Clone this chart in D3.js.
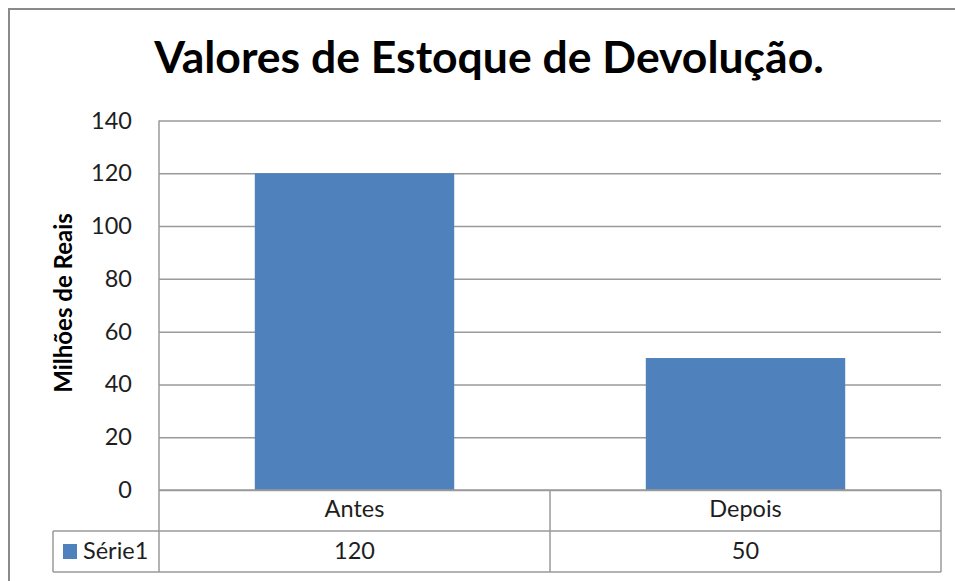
<!DOCTYPE html>
<html>
<head>
<meta charset="utf-8">
<script src="https://cdn.jsdelivr.net/npm/d3@7"></script>
<style>
  html, body { margin: 0; padding: 0; background: #fff; overflow: hidden; }
  svg { display: block; font-family: Lato, "Open Sans", sans-serif; }
</style>
</head>
<body>
<div id="chart"></div>
<script>
// chart values
const TITLE = 'Valores de Estoque de Devolução.';
const Y_LABEL = 'Milhões de Reais';
const SERIES_NAME = 'Série1';
const categories = ['Antes', 'Depois'];
const values = [120, 50];
const yTicks = [0, 20, 40, 60, 80, 100, 120, 140];

const BAR_COLOR = '#4f81bd';
const GRID = '#9a9a9a';
const TEXT = '#1e1e1e';
const FS = '23.5px';

function buildChart() {
  const W = 955, H = 581;
  const M = { left: 159, right: 941, top: 120.5, plotBottom: 490 };
  const ROW_H = 41;

  const svg = d3.select('#chart').append('svg')
    .attr('width', W).attr('height', H);

  // outer chart border (runs past the window on right/bottom)
  svg.append('rect').attr('x', 9).attr('y', 9).attr('width', 1000).attr('height', 1000)
    .attr('fill', '#fff').attr('stroke', '#8a8a8a').attr('stroke-width', 2);

  // bar band: 2 categories, bar ~51% of each cell, centred
  const x = d3.scaleBand().domain(categories)
    .range([M.left, M.right])
    .paddingInner(0.49).paddingOuter(0.245);
  const xCell = d3.scaleBand().domain(categories).range([M.left, M.right]);

  const y = d3.scaleLinear().domain([0, 140]).range([M.plotBottom, M.top]);

  // gridlines
  const grid = svg.append('g').attr('transform', `translate(${M.left},0)`)
    .call(d3.axisLeft(y).tickValues(yTicks).tickSize(-(M.right - M.left)).tickFormat(''));
  grid.select('.domain').remove();
  grid.selectAll('line').attr('stroke', GRID).attr('stroke-width', 1.5);

  // tick labels
  const yAxis = svg.append('g').attr('transform', `translate(${M.left - 27},0)`)
    .call(d3.axisLeft(y).tickValues(yTicks).tickSize(0).tickPadding(0));
  yAxis.select('.domain').remove();
  yAxis.selectAll('text').attr('fill', TEXT).style('font-size', FS)
    .attr('font-family', 'Lato, sans-serif');

  // bars
  svg.append('g').selectAll('rect').data(values).join('rect')
    .attr('x', (d, i) => x(categories[i]))
    .attr('y', d => y(d))
    .attr('width', x.bandwidth())
    .attr('height', d => y(0) - y(d))
    .attr('fill', BAR_COLOR);

  // data table lines
  const tableTop = M.plotBottom, rowMid = tableTop + ROW_H, tableBot = tableTop + 2 * ROW_H;
  const line = (x1, y1, x2, y2) => svg.append('line')
    .attr('x1', x1).attr('y1', y1).attr('x2', x2).attr('y2', y2)
    .attr('stroke', GRID).attr('stroke-width', 1.5);

  line(M.left, M.top, M.left, tableBot);
  line(M.left, tableTop, M.right, tableTop);
  line(53, rowMid, M.right, rowMid);
  line(53, tableBot, M.right, tableBot);
  line(53, rowMid, 53, tableBot);
  categories.forEach(c => line(xCell(c) + xCell.bandwidth(), tableTop, xCell(c) + xCell.bandwidth(), tableBot));

  // category labels and values
  categories.forEach((c, i) => {
    const cx = xCell(c) + xCell.bandwidth() / 2;
    svg.append('text').attr('x', cx).attr('y', tableTop + 27).attr('text-anchor', 'middle')
      .attr('fill', TEXT).style('font-size', FS).text(c);
    svg.append('text').attr('x', cx).attr('y', rowMid + 28).attr('text-anchor', 'middle')
      .attr('fill', TEXT).style('font-size', FS).text(values[i]);
  });

  // legend key in table
  svg.append('rect').attr('x', 63).attr('y', rowMid + 13).attr('width', 14).attr('height', 15)
    .attr('fill', BAR_COLOR);
  svg.append('text').attr('x', 83).attr('y', rowMid + 28)
    .attr('fill', TEXT).style('font-size', FS).text(SERIES_NAME);

  // title
  svg.append('text').attr('x', 489).attr('y', 73).attr('text-anchor', 'middle')
    .attr('fill', '#000').style('font-size', '44.5px').style('font-weight', 'bold').text(TITLE);

  // y axis title
  svg.append('text').attr('transform', 'translate(72,303) rotate(-90)')
    .attr('text-anchor', 'middle').attr('fill', '#000')
    .style('font-size', '24px').style('font-weight', 'bold').text(Y_LABEL);
}

document.addEventListener('DOMContentLoaded', buildChart);
</script>
</body>
</html>
